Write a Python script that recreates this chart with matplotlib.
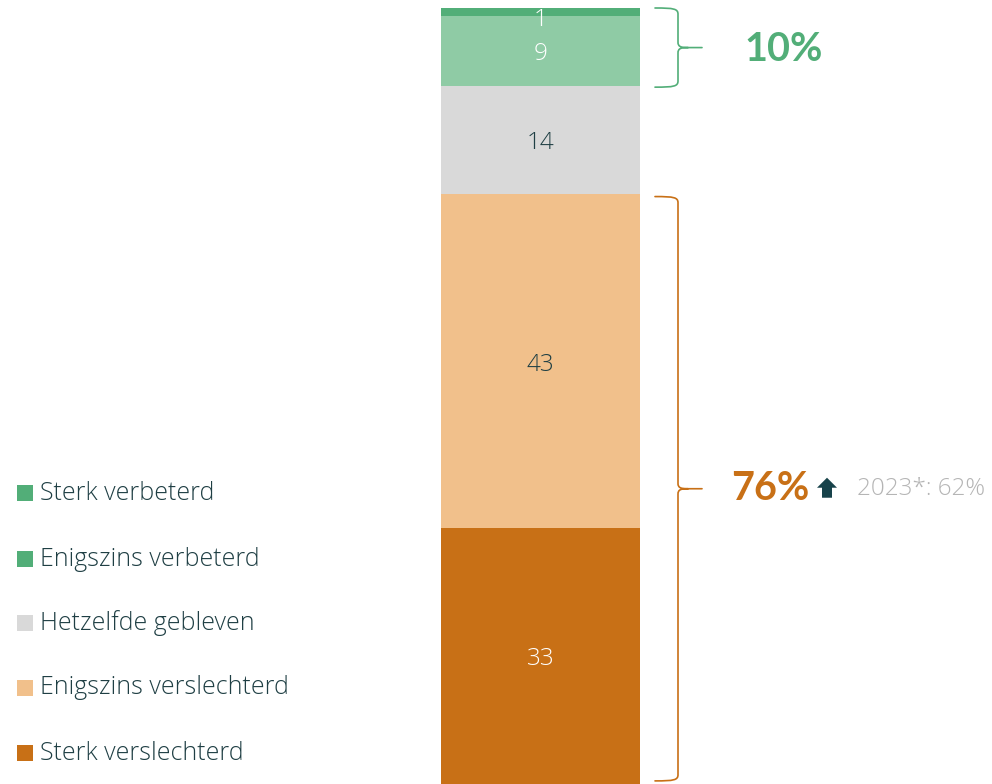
import matplotlib
matplotlib.use("Agg")
import matplotlib.pyplot as plt
from matplotlib.path import Path
from matplotlib.patches import PathPatch, Polygon, Rectangle
from matplotlib.transforms import blended_transform_factory, IdentityTransform

# ---- data ----
categories = ["Sterk verslechterd", "Enigszins verslechterd", "Hetzelfde gebleven",
              "Enigszins verbeterd", "Sterk verbeterd"]
values = [33, 43, 14, 9, 1]
bar_colors = ["#C87016", "#F1C08B", "#D9D9D9", "#8FCBA5", "#52AE78"]
legend_colors = ["#C87016", "#F1C08B", "#D9D9D9", "#52AE78", "#52AE78"]
label_colors = ["white", "#1F3F44", "#1F3F44", "white", "white"]
improved_idx = [3, 4]
worsened_idx = [0, 1]
previous_label = "2023*: 62%"

TEXT = "#1F3F44"
FONT = "Open Sans"
BOLD_FONT = "Lato"

W, H = 992, 784
fig = plt.figure(figsize=(W / 100, H / 100), dpi=100)
ax = fig.add_axes([441 / W, 0, 199 / W, 776 / H])
ax.set_xlim(-0.5, 0.5)
ax.set_ylim(0, 100)
ax.axis("off")

bottom = 0
bounds = []
for v, c, lc in zip(values, bar_colors, label_colors):
    ax.bar(0, v, width=1, bottom=bottom, color=c, edgecolor="none")
    bounds.append((bottom, bottom + v))
    off = -6 if v < 3 else -2.5
    ax.annotate(str(v), (0, bottom + v / 2), xytext=(0, off), textcoords="offset points",
                ha="center", va="center", color=lc, fontsize=17.5,
                family=FONT, fontweight="light")
    bottom += v

# blended: x in figure fraction, y in data
bt = blended_transform_factory(fig.transFigure, ax.transData)
px = lambda x: x / W


def bracket(y0, y1, color):
    x0, xv, xt = px(655), px(678), px(702)
    ym = (y0 + y1) / 2
    d = 0.8
    top = [(x0, y1), (xv - px(4), y1), (xv, y1 - 0.1), (xv, y1 - d),
           (xv, ym + 0.7), (xv, ym + 0.1), (xv + px(3), ym), (xv + px(10), ym), (xt, ym)]
    tc = [Path.MOVETO, Path.CURVE4, Path.CURVE4, Path.CURVE4,
          Path.LINETO, Path.CURVE4, Path.CURVE4, Path.CURVE4, Path.LINETO]
    bot = [(x0, y0), (xv - px(4), y0), (xv, y0 + 0.1), (xv, y0 + d),
           (xv, ym - 0.7), (xv, ym - 0.1), (xv + px(3), ym), (xv + px(10), ym)]
    bc = [Path.MOVETO, Path.CURVE4, Path.CURVE4, Path.CURVE4,
          Path.LINETO, Path.CURVE4, Path.CURVE4, Path.CURVE4]
    p = Path(top + bot, tc + bc)
    fig.add_artist(PathPatch(p, transform=bt, fill=False, edgecolor=color,
                             linewidth=1.2, capstyle="round"))
    return ym


# improved bracket
imp_lo = bounds[improved_idx[0]][0]
imp_hi = bounds[improved_idx[-1]][1]
ym_imp = bracket(imp_lo - 0.2, imp_hi, "#52AE78")
imp_total = sum(values[i] for i in improved_idx)
fig.text(px(744), ym_imp - 0.2, f"{imp_total}%", transform=bt, ha="left", va="center",
         color="#52AE78", fontsize=28.5, family=BOLD_FONT, fontweight="bold")

# worsened bracket
wor_lo = bounds[worsened_idx[0]][0]
wor_hi = bounds[worsened_idx[-1]][1]
ym_wor = bracket(wor_lo + 0.4, wor_hi - 0.3, "#C87016")
wor_total = sum(values[i] for i in worsened_idx)
fig.text(px(731), ym_wor, f"{wor_total}%", transform=bt, ha="left", va="center",
         color="#C87016", fontsize=28.5, family=BOLD_FONT, fontweight="bold")

# up arrow
yc = ax.transData.transform((0, ym_wor))[1]
arrow = [(817, yc + 1), (827, yc + 11), (837, yc + 1), (832, yc + 1),
         (832, yc - 9), (822, yc - 9), (822, yc + 1)]
fig.add_artist(Polygon(arrow, closed=True, transform=IdentityTransform(),
                       facecolor="#17424A", edgecolor="none"))
fig.text(px(857), ym_wor, previous_label, transform=bt, ha="left", va="center",
         color="#B5B5B5", fontsize=17.5, family=FONT, fontweight="light")

# legend (top to bottom: reverse of stacking)
leg_y = [493, 559, 623, 688, 753]
for yy, name, col in zip(leg_y, categories[::-1], legend_colors[::-1]):
    fig.add_artist(Rectangle((17, H - yy - 8), 16, 16, transform=IdentityTransform(),
                             facecolor=col, edgecolor="none"))
    fig.text(px(40), 1 - yy / H, name, ha="left", va="center", color=TEXT,
             fontsize=18, family=FONT, fontweight="light")

fig.savefig("out.png", dpi=100)
